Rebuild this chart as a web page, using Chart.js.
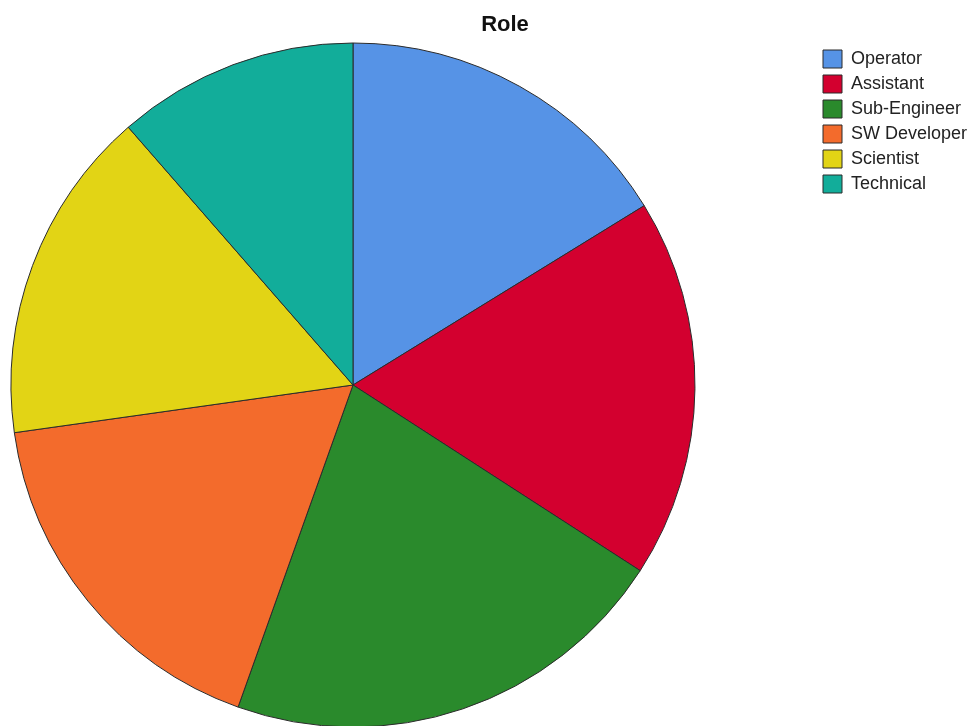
<!DOCTYPE html>
<html>
<head>
<meta charset="utf-8">
<script src="https://cdn.jsdelivr.net/npm/chart.js@4"></script>
<style>
  html, body { margin: 0; padding: 0; background: #ffffff; }
  #wrap { width: 974px; height: 726px; }
</style>
</head>
<body>
<div id="wrap"><canvas id="c" width="974" height="726"></canvas></div>
<script>
const chartTitle = 'Role';
const categories = ['Operator', 'Assistant', 'Sub-Engineer', 'SW Developer', 'Scientist', 'Technical'];
const shares = [16.2, 17.9, 21.3, 17.3, 15.8, 11.4];
const sliceColors = ['#5693e6', '#d3002f', '#2a8a2c', '#f36b2c', '#e2d415', '#12ad9a'];

const placePlugin = {
  id: 'place',
  afterLayout(chart) {
    chart.chartArea = { left: 11, top: 43, right: 695, bottom: 727, width: 684, height: 684 };
    const lg = chart.legend;
    if (lg) {
      const w = lg.width, h = lg.height;
      lg.left = 816; lg.top = 43; lg.right = lg.left + w; lg.bottom = lg.top + h;
    }
    const t = chart.titleBlock;
    if (t) {
      const h = t.height;
      t.left = 405; t.right = 605; t.top = 12; t.bottom = t.top + h;
    }
  }
};

new Chart(document.getElementById('c'), {
  type: 'pie',
  data: {
    labels: categories,
    datasets: [{
      data: shares,
      backgroundColor: sliceColors,
      borderColor: '#2b2b2b',
      borderWidth: 1
    }]
  },
  options: {
    responsive: false,
    animation: false,
    radius: 342,
    plugins: {
      title: {
        display: true,
        text: chartTitle,
        color: '#111111',
        font: { family: 'Liberation Sans, Arial, sans-serif', size: 22, weight: 'bold' },
        padding: 0
      },
      legend: {
        display: true,
        position: 'right',
        align: 'start',
        labels: {
          boxWidth: 19,
          boxHeight: 18,
          padding: 7,
          color: '#222222',
          font: { family: 'Liberation Sans, Arial, sans-serif', size: 18 }
        }
      },
      tooltip: { enabled: false }
    }
  },
  plugins: [placePlugin]
});
</script>
</body>
</html>
